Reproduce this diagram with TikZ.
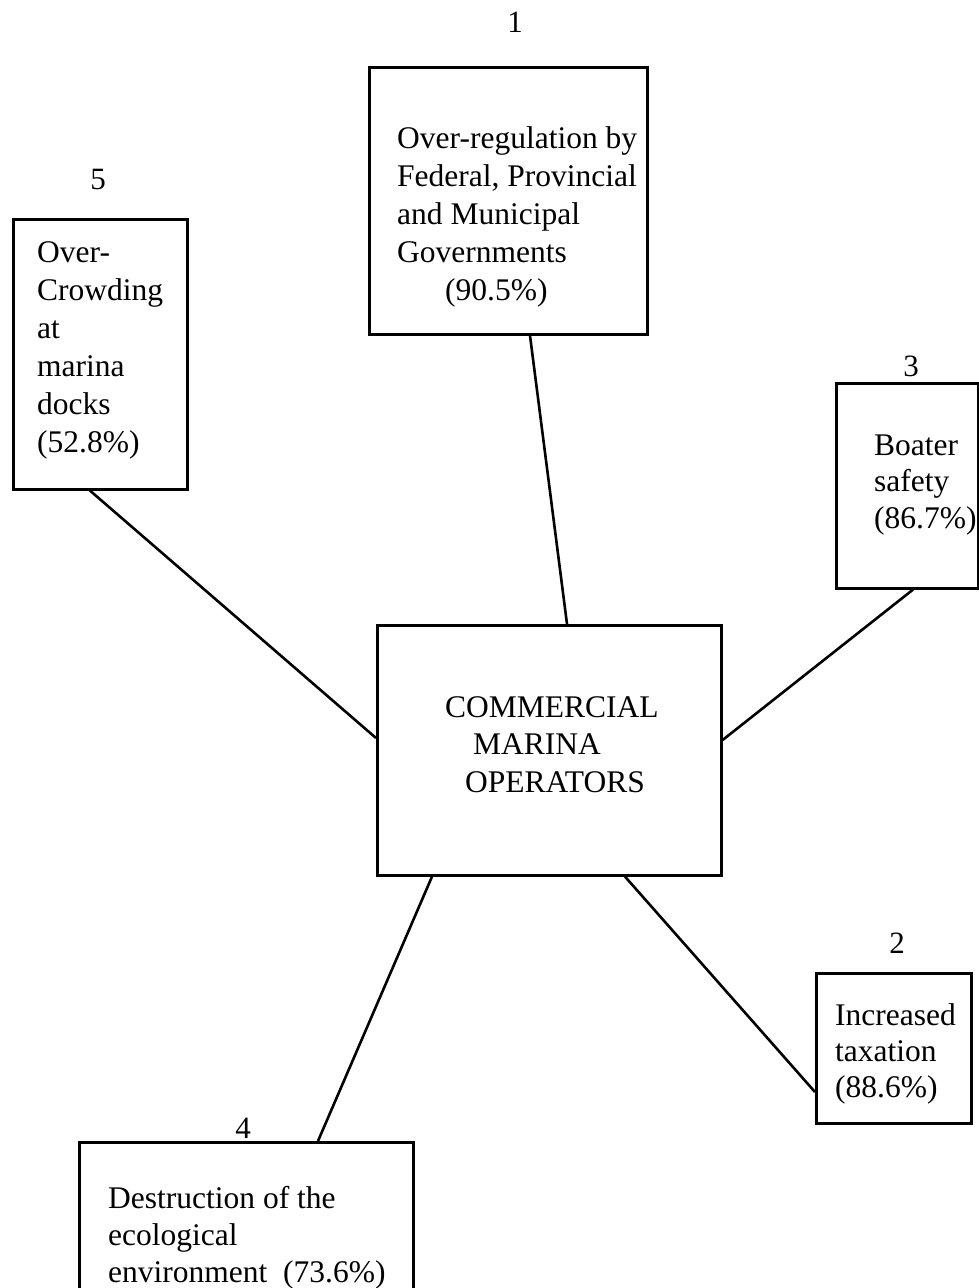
\documentclass[tikz,border=0pt]{standalone}
\usepackage{fontspec}
\setmainfont{Liberation Serif}
\usetikzlibrary{calc}
\tikzset{
  frame/.style={draw, line width=2.6pt, rectangle, inner sep=0pt, anchor=north west},
  % anchored at the baseline of the last line
  boxtext/.style={inner sep=0pt, anchor=base west, align=left},
  rank/.style={inner sep=0pt, anchor=center, font=\fontsize{31}{31}\selectfont},
  link/.style={line width=2.6pt},
}
\begin{document}
\begin{tikzpicture}[x=1pt,y=-1pt]
\useasboundingbox[fill=white] (0,0) rectangle (978,1288);

% boxes
\node[frame, minimum width=278pt, minimum height=267pt] (b1) at (368,66) {};
\node[frame, minimum width=174pt, minimum height=270pt] (b5) at (12,218) {};
\node[frame, minimum width=142pt, minimum height=205pt] (b3) at (835,382) {};
\node[frame, minimum width=344pt, minimum height=250pt] (c)  at (376,624) {};
\node[frame, minimum width=155pt, minimum height=150pt] (b2) at (815,972) {};
\node[frame, minimum width=334pt, minimum height=220pt] (b4) at (78,1141) {};

% box texts
\node[boxtext, font=\fontsize{31.5}{37.8}\selectfont] (t1) at (397,300)
  {Over-regulation by\\ Federal, Provincial\\ and Municipal\\ Governments\\ \hspace*{48pt}(90.5\%)};
\node[boxtext, font=\fontsize{31.5}{38}\selectfont] (t5) at (37,452)
  {Over-\\ Crowding\\ at\\ marina\\ docks\\ (52.8\%)};
\node[boxtext, font=\fontsize{31.5}{36.5}\selectfont] (t3) at (874,528)
  {Boater\\ safety\\ (86.7\%)};
\node[boxtext, font=\fontsize{31.5}{37.5}\selectfont] (tc) at (445,792)
  {COMMERCIAL\\ \hspace*{28pt}MARINA\\ \hspace*{20pt}OPERATORS};
\node[boxtext, font=\fontsize{31.5}{36}\selectfont] (t2) at (835,1097)
  {Increased\\ taxation\\ (88.6\%)};
\node[boxtext, font=\fontsize{31.5}{37}\selectfont] (t4) at (108,1282)
  {Destruction of the\\ ecological\\ environment\ \ (73.6\%)};

% rank numbers
\node[rank] (n1) at (515,22) {1};
\node[rank] (n5) at (98,179) {5};
\node[rank] (n3) at (911,366) {3};
\node[rank] (n2) at (897,943) {2};
\node[rank] (n4) at (243,1128) {4};

% connectors
\draw[link] ($(b1.south west)+(162,0)$) -- ($(c.north west)+(191,0)$);
\draw[link] ($(b5.south west)+(78,0)$) -- ($(c.north west)+(0,114)$);
\draw[link] ($(b3.south west)+(78,0)$) -- ($(c.north east)+(0,116)$);
\draw[link] ($(c.south west)+(249,0)$) -- ($(b2.north west)+(0,120)$);
\draw[link] ($(c.south west)+(56,0)$) -- ($(b4.north west)+(240,0)$);
\end{tikzpicture}
\end{document}
